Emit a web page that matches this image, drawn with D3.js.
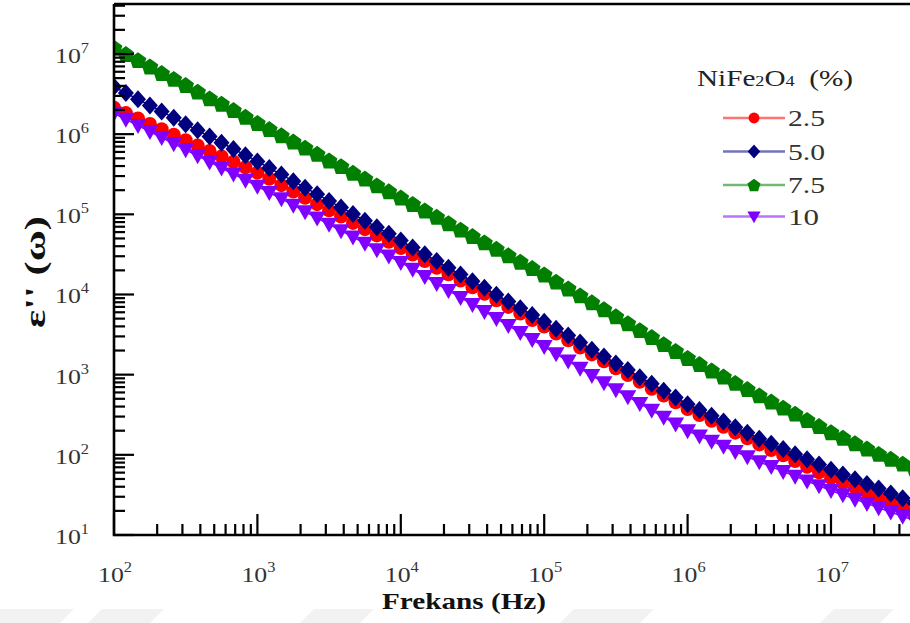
<!DOCTYPE html>
<html><head><meta charset="utf-8">
<script src="https://cdn.jsdelivr.net/npm/d3@7"></script>
<style>body{margin:0;background:#fff}svg{display:block}</style>
</head><body>
<svg id="chart" width="910" height="623"></svg>
<script>
// ---------------- DATA ----------------
const frequencies = [
  100,121,147,178,215,261,316,383,464,562,681,825,
  1000,1210,1470,1780,2150,2610,3160,3830,4640,5620,6810,8250,
  1e4,1.21e4,1.47e4,1.78e4,2.15e4,2.61e4,3.16e4,3.83e4,4.64e4,5.62e4,6.81e4,8.25e4,
  1e5,1.21e5,1.47e5,1.78e5,2.15e5,2.61e5,3.16e5,3.83e5,4.64e5,5.62e5,6.81e5,8.25e5,
  1e6,1.21e6,1.47e6,1.78e6,2.15e6,2.61e6,3.16e6,3.83e6,4.64e6,5.62e6,6.81e6,8.25e6,
  1e7,1.21e7,1.47e7,1.78e7,2.15e7,2.61e7,3.16e7,3.83e7,4.64e7
];
const seriesNames = ["2.5", "5.0", "7.5", "10"];
const eps_2_5 = [
  2.14e6,1.83e6,1.57e6,1.34e6,1.15e6,9.84e5,8.41e5,7.21e5,6.17e5,5.28e5,4.52e5,3.87e5,
  3.31e5,2.77e5,2.31e5,1.93e5,1.61e5,1.34e5,1.12e5,9.38e4,7.82e4,6.53e4,5.46e4,4.55e4,
  3.80e4,3.15e4,2.61e4,2.16e4,1.79e4,1.49e4,1.23e4,1.02e4,8.45e3,7.00e3,5.79e3,4.81e3,
  3.98e3,3.26e3,2.68e3,2.18e3,1.79e3,1.47e3,1.20e3,988,813,668,550,452,
  372,314,266,224,189,161,135,115,98.6,83.6,71.1,60.6,
  51.5,44.8,39.0,34.0,29.5,25.7,22.4,19.5,16.9
];
const eps_5_0 = [
  3.89e6,3.26e6,2.72e6,2.28e6,1.91e6,1.60e6,1.33e6,1.12e6,9.33e5,7.82e5,6.53e5,5.47e5,
  4.57e5,3.78e5,3.13e5,2.59e5,2.15e5,1.78e5,1.47e5,1.22e5,1.01e5,8.34e4,6.90e4,5.71e4,
  4.73e4,3.85e4,3.18e4,2.62e4,2.15e4,1.77e4,1.46e4,1.21e4,9.93e3,8.17e3,6.73e3,5.55e3,
  4.57e3,3.74e3,3.07e3,2.51e3,2.05e3,1.69e3,1.38e3,1.14e3,930,768,631,519,
  427,362,307,261,221,188,159,137,118,102,88.0,75.6,
  65.3,57.0,49.7,43.4,37.9,33.0,28.8,25.1,21.9
];
const eps_7_5 = [
  1.20e7,1.00e7,8.4e6,7.0e6,5.8e6,4.9e6,4.1e6,3.4e6,2.8e6,2.4e6,2.0e6,1.65e6,
  1.38e6,1.16e6,9.7e5,8.1e5,6.8e5,5.7e5,4.7e5,4.0e5,3.3e5,2.8e5,2.3e5,1.94e5,
  1.62e5,1.35e5,1.12e5,9.33e4,7.76e4,6.46e4,5.37e4,4.47e4,3.72e4,3.09e4,2.57e4,2.14e4,
  1.78e4,1.45e4,1.19e4,9.76e3,8.00e3,6.56e3,5.36e3,4.39e3,3.60e3,2.95e3,2.41e3,1.98e3,
  1.62e3,1.36e3,1.13e3,949,791,662,553,463,389,327,273,229,
  192,164,140,120,103,89.4,77.9,67.9,59.5
];
const eps_10 = [
  1.82e6,1.53e6,1.28e6,1.08e6,9.06e5,7.60e5,6.38e5,5.36e5,4.50e5,3.78e5,3.18e5,2.67e5,
  2.24e5,1.87e5,1.56e5,1.30e5,1.08e5,8.99e4,7.50e4,6.25e4,5.21e4,4.35e4,3.61e4,3.01e4,
  2.51e4,2.06e4,1.68e4,1.37e4,1.12e4,9.18e3,7.50e3,6.14e3,5.01e3,4.10e3,3.35e3,2.74e3,
  2.24e3,1.82e3,1.48e3,1.20e3,974,794,646,531,437,359,295,242,
  199,172,148,128,110,94.5,81.7,71.3,62.0,54.2,47.2,41.1,
  35.9,31.7,28.0,24.8,21.9,19.3,17.1,15.1,13.3
];
const xTickExponents = [2, 3, 4, 5, 6, 7];
const yTickExponents = [1, 2, 3, 4, 5, 6, 7];
const minorMultipliers = [2, 3, 4, 5, 6, 7, 8, 9];

// ---------------- STYLE ----------------
const seriesValues = [eps_2_5, eps_5_0, eps_7_5, eps_10];
const colors = ["#ff0000", "#00007f", "#007f00", "#7f00ff"];
const shapes = ["circle", "diamond", "pentagon", "triangleDown"];
const serif = "'Liberation Serif','Times New Roman',serif";

function shapePath(kind) {
  const p = d3.path();
  if (kind === "circle") { p.arc(0, 0, 7, 0, 2 * Math.PI); }
  else if (kind === "diamond") { p.moveTo(0,-9); p.lineTo(8,0); p.lineTo(0,9); p.lineTo(-8,0); }
  else if (kind === "pentagon") {
    for (let i = 0; i < 5; i++) {
      const a = -Math.PI/2 + i * 2*Math.PI/5;
      const x = 8.8*Math.cos(a), y = 8.8*Math.sin(a) + 0.9;
      i ? p.lineTo(x, y) : p.moveTo(x, y);
    }
  } else { p.moveTo(-8.5,-6.5); p.lineTo(8.5,-6.5); p.lineTo(0,8.5); }
  p.closePath();
  return p.toString();
}

const svg = d3.select("#chart");
svg.append("rect").attr("width", 910).attr("height", 623).attr("fill", "#fff");

// faint watermark shapes at the bottom
const wm = [[-30, 60], [88, 150], [300, 360], [560, 640], [820, 880]];
svg.append("g").selectAll("path").data(wm).join("path")
  .attr("d", d => `M${d[0]},623L${d[0]+14},609L${d[1]+14},609L${d[1]},623Z`)
  .attr("fill", "#f2f2f2");

const L = 114, B = 535, T = 4;
const x = d3.scaleLog().domain([1e2, 1e8]).range([L, L + 6 * 143.4]);
const y = d3.scaleLog().domain([1e1, 1e8]).range([B, B - 7 * 80.17]);

svg.append("clipPath").attr("id", "clip")
  .append("rect").attr("x", L).attr("y", T).attr("width", 900).attr("height", B - T);

const plot = svg.append("g").attr("clip-path", "url(#clip)");
const line = d3.line().x((d, i) => x(frequencies[i])).y(d => y(d));

seriesValues.forEach((vals, s) => {
  const g = plot.append("g");
  g.append("path").datum(vals).attr("d", line)
    .attr("fill", "none").attr("stroke", colors[s]).attr("stroke-width", 1.5);
  g.selectAll("path.m").data(vals).join("path").attr("class", "m")
    .attr("d", shapePath(shapes[s]))
    .attr("transform", (d, i) => `translate(${x(frequencies[i])},${y(d)})`)
    .attr("fill", colors[s]);
});

// ---------------- AXES ----------------
const axes = svg.append("g").attr("stroke", "#000").attr("fill", "none");
xTickExponents.forEach(e => {
  const v = Math.pow(10, e);
  axes.append("line").attr("x1", x(v)).attr("x2", x(v)).attr("y1", B).attr("y2", B - 21).attr("stroke-width", 2.2);
  minorMultipliers.forEach(m => {
    const xv = x(m * v);
    if (xv <= 912) axes.append("line").attr("x1", xv).attr("x2", xv).attr("y1", B).attr("y2", B - 11).attr("stroke-width", 2.2);
  });
});
yTickExponents.forEach(e => {
  const v = Math.pow(10, e);
  axes.append("line").attr("x1", L).attr("x2", L + 20).attr("y1", y(v)).attr("y2", y(v)).attr("stroke-width", 2.2);
  minorMultipliers.forEach(m => {
    const yv = y(m * v);
    if (yv >= T + 1) axes.append("line").attr("x1", L).attr("x2", L + 11).attr("y1", yv).attr("y2", yv).attr("stroke-width", 2.2);
  });
});
axes.append("path").attr("d", `M${L},${T}L${L},${B}L${L + 900},${B}`).attr("stroke-width", 2.6);
axes.append("line").attr("x1", L).attr("x2", L + 900).attr("y1", T).attr("y2", T).attr("stroke-width", 2.6);

// tick labels
function powLabel(g, px, py, exp, anchor) {
  const t = g.append("text").attr("x", px).attr("y", py)
    .attr("text-anchor", anchor).attr("font-family", serif)
    .attr("font-size", 22).attr("fill", "#333")
    .attr("textLength", 34).attr("lengthAdjust", "spacingAndGlyphs");
  t.append("tspan").text("10");
  t.append("tspan").attr("font-size", 14).attr("dy", -10).text(exp);
}
const labels = svg.append("g");
xTickExponents.forEach(e => powLabel(labels, x(Math.pow(10, e)) + 1, 582, e, "middle"));
yTickExponents.forEach(e => powLabel(labels, 89, y(Math.pow(10, e)) + 9, e, "end"));

// axis titles
svg.append("text").attr("x", 382).attr("y", 609)
  .attr("font-family", serif).attr("font-weight", "bold").attr("font-size", 24).attr("fill", "#111")
  .attr("textLength", 164).attr("lengthAdjust", "spacingAndGlyphs")
  .text("Frekans (Hz)");
svg.append("text").attr("transform", "translate(45,272) rotate(-90)")
  .attr("text-anchor", "middle")
  .attr("font-family", serif).attr("font-weight", "bold").attr("font-size", 30).attr("fill", "#111")
  .attr("textLength", 112).attr("lengthAdjust", "spacingAndGlyphs")
  .text("ε'' (ω)");

// legend
const lt = svg.append("text").attr("x", 697).attr("y", 86)
  .attr("font-family", serif).attr("font-size", 24).attr("fill", "#222")
  .attr("textLength", 156).attr("lengthAdjust", "spacingAndGlyphs");
lt.append("tspan").text("NiFe");
lt.append("tspan").attr("font-size", 15).text("2");
lt.append("tspan").text("O");
lt.append("tspan").attr("font-size", 15).text("4");
lt.append("tspan").text("\u00a0\u00a0(%)");

const rowY = [118, 151.5, 185, 216.5];
const lenMap = {"2.5": 37, "5.0": 37, "7.5": 37, "10": 31};
seriesNames.forEach((name, s) => {
  const g = svg.append("g");
  g.append("line").attr("x1", 723).attr("x2", 785).attr("y1", rowY[s]).attr("y2", rowY[s])
    .attr("stroke", colors[s]).attr("stroke-width", 2.5).attr("stroke-opacity", 0.55);
  g.append("path").attr("d", shapePath(shapes[s]))
    .attr("transform", `translate(754,${rowY[s]}) scale(0.78)`).attr("fill", colors[s]);
  g.append("text").attr("x", 788).attr("y", rowY[s] + 8)
    .attr("font-family", serif).attr("font-size", 23).attr("fill", "#333")
    .attr("textLength", lenMap[name]).attr("lengthAdjust", "spacingAndGlyphs")
    .text(name);
});
</script>
</body></html>
